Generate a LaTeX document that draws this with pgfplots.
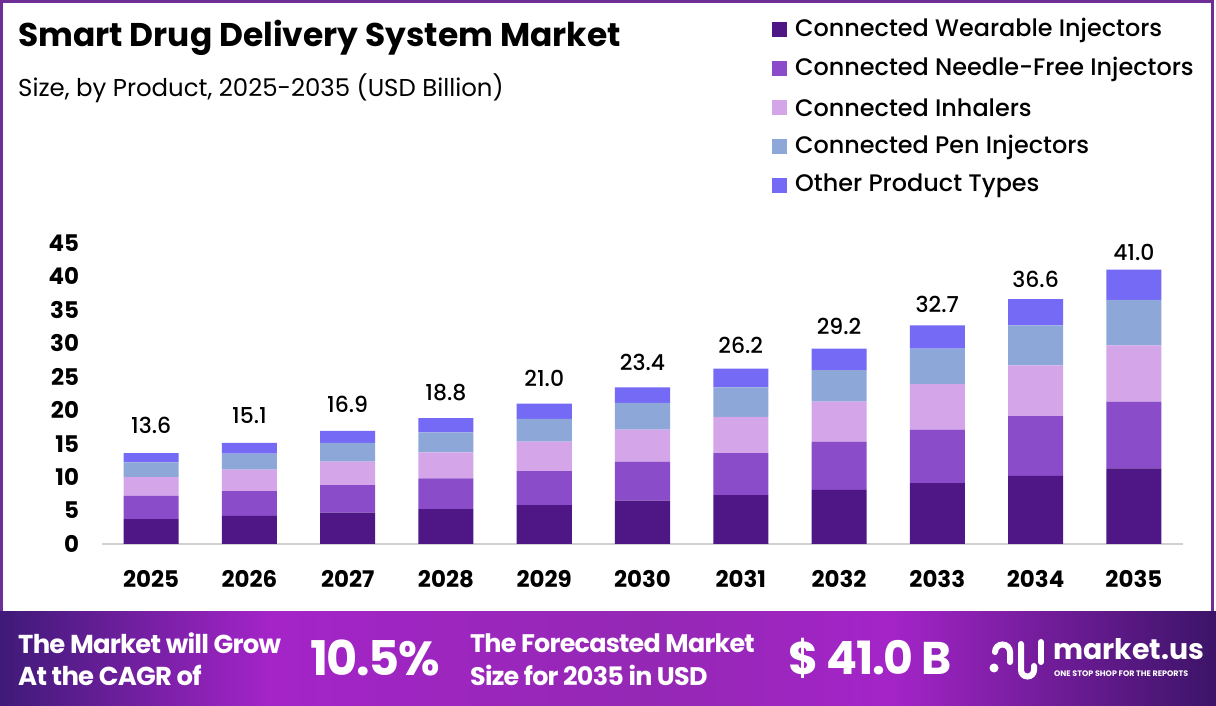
\documentclass[border=0pt]{standalone}
\usepackage{pgfplots}
\pgfplotsset{compat=1.18}
\usepackage{pgfplotstable}
\usepackage{fontspec}
\setmainfont{Poppins}
\newfontfamily\pmed{Poppins Medium}
\newfontfamily\pban[LetterSpace=-3]{Poppins Bold}
\definecolor{cA}{HTML}{4E1785}
\definecolor{cB}{HTML}{8A4CC9}
\definecolor{cC}{HTML}{D4A5E9}
\definecolor{cD}{HTML}{8DA7D9}
\definecolor{cE}{HTML}{756AF5}
\definecolor{border}{HTML}{6E2E96}
\definecolor{bA}{HTML}{3F1A78}
\definecolor{bB}{HTML}{A424C8}
\definecolor{bC}{HTML}{9428B4}
\definecolor{bF}{HTML}{3C1468}
\pgfplotstableread{
x a b c d e t
0 3.7 3.5 2.8 2.2 1.4 13.6
1 4.2 3.7 3.2 2.4 1.6 15.1
2 4.7 4.1 3.5 2.8 1.8 16.9
3 5.2 4.6 3.9 3.0 2.1 18.8
4 5.8 5.1 4.4 3.4 2.3 21.0
5 6.5 5.8 4.8 4.0 2.3 23.4
6 7.3 6.3 5.4 4.4 2.8 26.2
7 8.1 7.2 6.0 4.7 3.2 29.2
8 9.1 8.0 6.8 5.3 3.5 32.7
9 10.2 8.9 7.6 6.0 3.9 36.6
10 11.3 10.0 8.4 6.8 4.5 41.0
}\data
\begin{document}
\begin{tikzpicture}[x=1bp,y=1bp]
\useasboundingbox (0,0) rectangle (1216,706);
\fill[white] (0,0) rectangle (1216,706);
% border
\draw[border, line width=3bp] (1.5,94) -- (1.5,704.5) -- (1212,704.5) -- (1212,94);
% banner
\shade[left color=bA, right color=bB] (0,0) rectangle (270.5,94);
\shade[left color=bB, right color=bC] (270,0) rectangle (650.5,94);
\shade[left color=bC, right color=bB] (650,0) rectangle (890.5,94);
\shade[left color=bB, right color=bF] (890,0) rectangle (1216,94);
% title
\node[anchor=west, inner sep=0pt, font=\bfseries\fontsize{33}{33}\selectfont] at (18,668) {Smart Drug Delivery System Market};
\node[anchor=west, inner sep=0pt, font=\fontsize{24.5}{24.5}\selectfont] at (18,618) {Size, by Product, 2025-2035 (USD Billion)};
% legend
\foreach \c/\t [count=\i from 0] in {cA/Connected Wearable Injectors, cB/Connected Needle-Free Injectors, cC/Connected Inhalers, cD/Connected Pen Injectors, cE/Other Product Types}{
  \fill[\c] (772,{676-39*\i-7.5}) rectangle (787,{676-39*\i+7.5});
  \node[anchor=west, inner sep=0pt, font=\pmed\fontsize{24}{24}\selectfont] at (795,{676-39*\i}) {\t};
}
\begin{axis}[
  at={(102bp,162bp)}, anchor=south west,
  scale only axis, width=1081bp, height=301bp,
  xmin=-0.5, xmax=10.5, ymin=0, ymax=45,
  ybar stacked, bar width=0.56,
  clip=false,
  axis lines*=left,
  y axis line style={draw=none},
  x axis line style={draw=black!18, line width=1.2bp},
  major tick length=0pt,
  tick style={draw=none},
  ytick={0,5,...,45},
  xtick={0,...,10},
  xticklabels={2025,2026,2027,2028,2029,2030,2031,2032,2033,2034,2035},
  /pgf/number format/assume math mode=true,
  tick label style={font=\bfseries\fontsize{23}{23}\selectfont},
  yticklabel style={anchor=east, xshift=-19.5bp},
  xticklabel style={anchor=center, yshift=-35bp},
  every axis plot/.append style={draw=none},
]
\addplot[fill=cA] table[x=x,y=a]{\data};
\addplot[fill=cB] table[x=x,y=b]{\data};
\addplot[fill=cC] table[x=x,y=c]{\data};
\addplot[fill=cD] table[x=x,y=d]{\data};
\addplot[fill=cE, point meta=explicit symbolic,
  nodes near coords,
  every node near coord/.append style={font=\pmed\fontsize{22}{22}\selectfont, text=black, anchor=south, yshift=21bp}]
  table[x=x, y=e, meta=t]{\data};
\end{axis}
% banner texts
\begin{scope}[every node/.style={text=white, anchor=west, inner sep=0pt}]
\node[font=\pban\fontsize{26}{26}\selectfont] at (18,63) {The Market will Grow};
\node[font=\pban\fontsize{26}{26}\selectfont] at (18,31) {At the CAGR of};
\node[font=\pban\fontsize{48}{48}\selectfont] at (310,48) {10.5\%};
\node[font=\pban\fontsize{25.5}{25.5}\selectfont] at (470,63) {The Forecasted Market};
\node[font=\pban\fontsize{25.5}{25.5}\selectfont] at (470,31) {Size for 2035 in USD};
\node[font=\pban\fontsize{46}{46}\selectfont] at (788,48) {\$ 41.0 B};
\node[font=\bfseries\fontsize{28.5}{28.5}\selectfont, anchor=base west, text depth=0pt] at (1053,46) {market.us};
\node[font=\bfseries\fontsize{8}{8}\selectfont, anchor=base west, text height=5pt] at (1054,29) {ONE STOP SHOP FOR THE REPORTS};
\end{scope}
% logo icon
\begin{scope}[white, line width=6bp, line cap=round]
\fill (994,38) circle (4.5);
\draw (995,54) arc (180:0:7.5) -- (1010,44);
\draw (1021,62) -- (1021,36) arc (180:360:6.5) -- (1034,40);
\draw (1041,64) -- (1041,44);
\end{scope}
\end{tikzpicture}
\end{document}
